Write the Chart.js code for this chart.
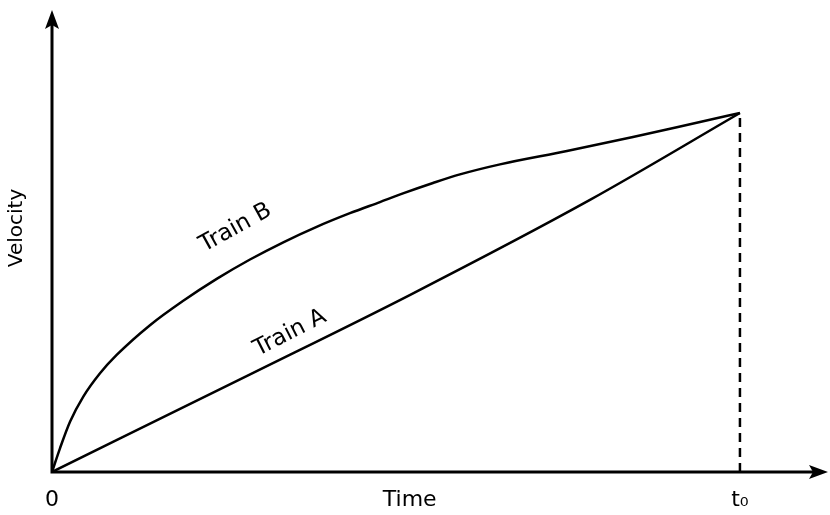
<!DOCTYPE html>
<html>
<head>
<meta charset="utf-8">
<script src="https://cdn.jsdelivr.net/npm/chart.js@4.4.0/dist/chart.umd.min.js"></script>
<style>
html, body { margin: 0; padding: 0; background: #fff; }
#caja { width: 830px; height: 515px; }
</style>
</head>
<body>
<div id="caja"><canvas id="grafica"></canvas></div>
<script>
'use strict'

// DATOS (tiempo normalizado con t0 = 1, velocidad normalizada)
const tiempoA = [0, 0.288, 0.520, 0.782, 1];
const velocidadA = [0, 0.272, 0.493, 0.758, 1];
const tiempoB = [0, 0.0116, 0.0262, 0.0455, 0.0698, 0.094, 0.1424, 0.1908, 0.2394, 0.2878, 0.3362,
  0.3847, 0.4331, 0.4767, 0.5102, 0.5538, 0.593, 0.6512, 0.7485, 0.8445, 0.9419, 1];
const velocidadB = [0, 0.066, 0.140, 0.210, 0.275, 0.326, 0.409, 0.477, 0.538, 0.592, 0.640,
  0.683, 0.721, 0.752, 0.776, 0.805, 0.829, 0.857, 0.894, 0.933, 0.975, 1];
const tiempoT0 = [1, 1];
const velocidadT0 = [0, 1];
const ticksX = [0, 0.52, 1];
const etiquetasX = ['0', 'Time', 't₀'];
const tituloY = 'Velocity';

// ETIQUETAS DE LAS CURVAS (posicion en unidades de datos)
const rotulos = [
  { texto: 'Train B', x: 0.267, y: 0.680, angulo: -29 },
  { texto: 'Train A', x: 0.346, y: 0.387, angulo: -27 }
];

const fuente = '"DejaVu Sans", Verdana, sans-serif';

function puntos(xs, ys) {
  return xs.map((x, i) => ({ x, y: ys[i] }));
}

// EJES CON FLECHAS Y TEXTOS SUELTOS
const ejes = {
  id: 'ejes',
  afterDatasetsDraw(chart) {
    const { ctx, chartArea: a, scales: { x, y } } = chart;
    const x0 = x.getPixelForValue(0);
    const y0 = y.getPixelForValue(0);
    ctx.save();
    ctx.strokeStyle = '#000';
    ctx.fillStyle = '#000';
    ctx.lineWidth = 3;
    ctx.beginPath();
    ctx.moveTo(x0, y0 + 1.5);
    ctx.lineTo(x0, a.top + 12);
    ctx.moveTo(x0 - 1.5, y0);
    ctx.lineTo(a.right - 12, y0);
    ctx.stroke();

    // flecha vertical
    ctx.beginPath();
    ctx.moveTo(x0, a.top);
    ctx.lineTo(x0 + 7, a.top + 19);
    ctx.lineTo(x0, a.top + 15);
    ctx.lineTo(x0 - 7, a.top + 19);
    ctx.closePath();
    ctx.fill();
    // flecha horizontal
    ctx.beginPath();
    ctx.moveTo(a.right, y0);
    ctx.lineTo(a.right - 19, y0 - 7);
    ctx.lineTo(a.right - 15, y0);
    ctx.lineTo(a.right - 19, y0 + 7);
    ctx.closePath();
    ctx.fill();

    // titulo del eje y
    ctx.font = '20px ' + fuente;
    ctx.textAlign = 'center';
    ctx.textBaseline = 'middle';
    ctx.save();
    ctx.translate(17, 228);
    ctx.rotate(-Math.PI / 2);
    ctx.fillText(tituloY, 0, 0);
    ctx.restore();

    // nombres de los trenes
    ctx.font = '23px ' + fuente;
    rotulos.forEach(r => {
      ctx.save();
      ctx.translate(x.getPixelForValue(r.x), y.getPixelForValue(r.y));
      ctx.rotate(r.angulo * Math.PI / 180);
      ctx.fillText(r.texto, 0, 0);
      ctx.restore();
    });
    ctx.restore();
  }
};

function crearGrafica() {
  const ctx = document.getElementById('grafica').getContext('2d');
  new Chart(ctx, {
    type: 'line',
    data: {
      datasets: [
        {
          label: 'Train A',
          data: puntos(tiempoA, velocidadA),
          borderColor: '#000',
          borderWidth: 2.5,
          pointRadius: 0,
          cubicInterpolationMode: 'monotone',
          fill: false
        },
        {
          label: 'Train B',
          data: puntos(tiempoB, velocidadB),
          borderColor: '#000',
          borderWidth: 2.5,
          pointRadius: 0,
          cubicInterpolationMode: 'monotone',
          fill: false
        },
        {
          label: 't0',
          data: puntos(tiempoT0, velocidadT0),
          borderColor: '#000',
          borderWidth: 2.5,
          borderDash: [9, 6],
          pointRadius: 0,
          fill: false
        }
      ]
    },
    options: {
      responsive: true,
      maintainAspectRatio: false,
      animation: false,
      layout: { padding: { left: 52, top: 10, right: 2, bottom: 0 } },
      scales: {
        x: {
          type: 'linear',
          min: 0,
          max: 1.128,
          grid: { display: false, drawTicks: false },
          border: { display: false },
          afterBuildTicks: scale => { scale.ticks = ticksX.map(v => ({ value: v })); },
          afterFit: scale => { scale.height = 43; },
          ticks: {
            autoSkip: false,
            maxRotation: 0,
            padding: 15,
            color: '#000',
            font: { family: fuente, size: 22 },
            callback: (valor, i) => etiquetasX[i]
          }
        },
        y: {
          type: 'linear',
          display: false,
          min: 0,
          max: 1.287
        }
      },
      plugins: {
        legend: { display: false },
        tooltip: { enabled: false }
      }
    },
    plugins: [ejes]
  });
}

crearGrafica();
</script>
</body>
</html>
